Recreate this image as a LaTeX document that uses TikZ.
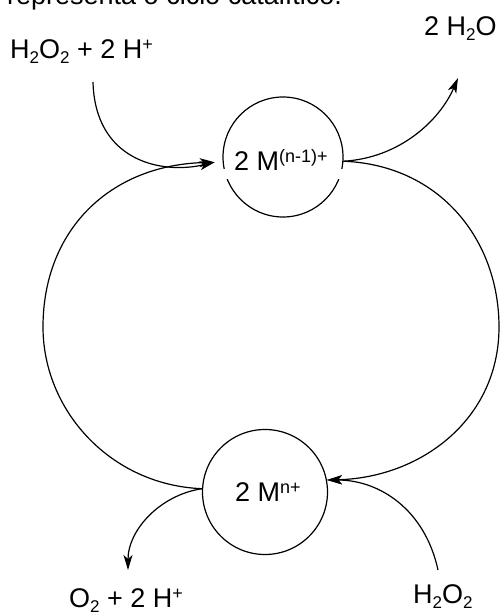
\documentclass[tikz,border=0pt]{standalone}
\usepackage{fontspec}
\setmainfont{Liberation Sans}
\usetikzlibrary{arrows.meta}
\newcommand{\mysub}[1]{\raisebox{-5pt}{\fontsize{17}{17}\selectfont #1}}
\newcommand{\mysup}[1]{\raisebox{8pt}{\fontsize{18}{18}\selectfont #1}}
\begin{document}
\begin{tikzpicture}[x=1pt,y=-1pt,
  lbl/.style={inner sep=0pt, anchor=base west, font=\fontsize{27}{30}\selectfont},
  ring/.style={draw, circle, line width=1.2pt, inner sep=0pt},
  conn/.style={line width=1.2pt},
  tip/.style={-{Stealth[length=15pt,width=9pt,inset=4pt]}}]
\useasboundingbox (0,0) rectangle (502,615);
\clip (0,0) rectangle (502,615);
% clipped heading
\node[lbl] (cap) at (7,5) {representa o ciclo catalítico.};
% metal centres
\node[ring, minimum size=120pt] (topc) at (283,157) {};
\node[ring, minimum size=125pt] (botc) at (265,492) {};
\fill[white] (219,169) rectangle (347,179);
\node[lbl] (topl) at (234,170) {2 M\mysup{(n-1)+}};
\node[lbl] (botl) at (235,501) {2 M\mysup{n+}};
% species
\node[lbl] (h2o2a) at (10,59) {H\mysub{2}O\mysub{2} + 2 H\mysup{+}};
\node[lbl] (h2o) at (424,36) {2 H\mysub{2}O};
\node[lbl] (o2) at (69,607) {O\mysub{2} + 2 H\mysup{+}};
\node[lbl] (h2o2b) at (413,603) {H\mysub{2}O\mysub{2}};
% connection points
\coordinate (tin) at ([xshift=-8pt]topc.185);
\coordinate (tout) at (topc.356);
\coordinate (bout) at (botc.177);
\coordinate (bin) at (botc.11);
\coordinate (s1) at (93,82);
\coordinate (e1) at (458,78);
\coordinate (e2) at (128,570);
\coordinate (s2) at (438,570);
% connectors
\draw[conn,tip] (s1) .. controls (95,160) and (160,175) .. (tin);
\draw[conn,tip] (bout) .. controls (110,485) and (43,410) .. (43,327) .. controls (43,230) and (110,165) .. (tin);
\draw[conn,tip] (tout) .. controls (400,158) and (440,120) .. (e1);
\draw[conn,tip] (tout) .. controls (440,165) and (499,240) .. (499,327) .. controls (499,420) and (420,478) .. (bin);
\draw[conn,tip] (bout) .. controls (160,495) and (128,530) .. (e2);
\draw[conn,tip] (s2) .. controls (425,510) and (380,480) .. (bin);
\end{tikzpicture}
\end{document}
